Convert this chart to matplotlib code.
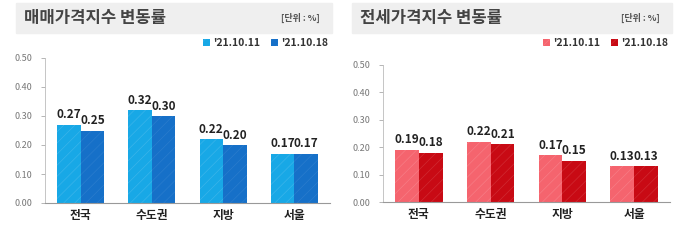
import matplotlib.pyplot as plt
import matplotlib.patches as mpatches
import numpy as np

plt.rcParams['font.family'] = ['Noto Sans CJK KR', 'DejaVu Sans']
plt.rcParams['hatch.linewidth'] = 0.5

categories = ['전국', '수도권', '지방', '서울']
series_names = ["'21.10.11", "'21.10.18"]
sale_prev = [0.27, 0.32, 0.22, 0.17]
sale_curr = [0.25, 0.30, 0.20, 0.17]
rent_prev = [0.19, 0.22, 0.17, 0.13]
rent_curr = [0.18, 0.21, 0.15, 0.13]
yticks = [0.0, 0.1, 0.2, 0.3, 0.4, 0.5]

W, H = 700, 244
fig = plt.figure(figsize=(7, 2.44), dpi=100)
fig.patch.set_facecolor('white')


def px_rect(x0, y0, x1, y1):
    # pixel box (top-left origin) -> figure fraction
    return [x0 / W, 1 - y1 / H, (x1 - x0) / W, (y1 - y0) / H]


def panel(ax_box, band, title, prev, curr, colors, hatch_colors, leg_x):
    # title band
    bx0, by0, bx1, by1 = band
    fig.patches.append(mpatches.Rectangle((bx0 / W, 1 - by1 / H), (bx1 - bx0) / W, (by1 - by0) / H,
                                          transform=fig.transFigure, color='#efefef', zorder=0))
    fig.text((bx0 + 8) / W, 1 - 18 / H, title, fontsize=12, fontweight='bold', color='#444444',
             va='center', ha='left')
    fig.text((bx1 - 12) / W, 1 - 18 / H, '[단위 : %]', fontsize=6.5, fontweight='bold', color='#555555',
             va='center', ha='right')

    ax = fig.add_axes(px_rect(*ax_box))
    x = np.arange(len(categories))
    w = 0.33
    b1 = ax.bar(x - w / 2, prev, w, color=colors[0], edgecolor=hatch_colors[0], linewidth=0,
                hatch='///', label=series_names[0])
    b2 = ax.bar(x + w / 2, curr, w, color=colors[1], edgecolor=hatch_colors[1], linewidth=0,
                hatch='///', label=series_names[1])
    for bars, vals in ((b1, prev), (b2, curr)):
        for r, v in zip(bars, vals):
            ax.annotate('%.2f' % v, (r.get_x() + r.get_width() / 2, v), xytext=(0, 2.5),
                        textcoords='offset points', ha='center', va='bottom',
                        fontsize=8.5, fontweight='bold', color='#222222')
    ax.set_xlim(-0.5, 3.5)
    ax.set_ylim(0, 0.5)
    ax.set_yticks(yticks)
    ax.set_yticklabels(['%.2f' % t for t in yticks], fontsize=6.5, color='#777777')
    ax.set_xticks(x)
    ax.set_xticklabels(categories, fontsize=8.5, fontweight='bold', color='#222222')
    ax.tick_params(axis='x', length=0, pad=4)
    ax.tick_params(axis='y', length=3, width=0.6, color='#aaaaaa', pad=6)
    for s in ('top', 'right'):
        ax.spines[s].set_visible(False)
    ax.spines['left'].set_color('#bbbbbb')
    ax.spines['bottom'].set_color('#999999')
    ax.spines['left'].set_linewidth(0.6)
    ax.spines['bottom'].set_linewidth(0.8)

    ax.legend(handles=[b1, b2], loc='center right', bbox_to_anchor=(leg_x / W, 1 - 43 / H),
              bbox_transform=fig.transFigure, ncol=2, frameon=False,
              handlelength=0.7, handleheight=0.7, handletextpad=0.3, columnspacing=1.0,
              borderaxespad=0, borderpad=0, prop={'weight': 'bold', 'size': 7.5})
    for t in ax.get_legend().get_texts():
        t.set_color('#333333')
    return ax


panel((45, 58, 330, 203), (16, 3, 332, 33), '매매가격지수 변동률', sale_prev, sale_curr,
      ('#18a8e6', '#1670c8'), ('#3ab4ea', '#2a7ccd'), 328)
panel((383, 65, 670, 202), (352, 3, 672, 33), '전세가격지수 변동률', rent_prev, rent_curr,
      ('#f5646e', '#c80a14'), ('#f77c85', '#d02a32'), 668)

fig.savefig('out.png', dpi=100)
